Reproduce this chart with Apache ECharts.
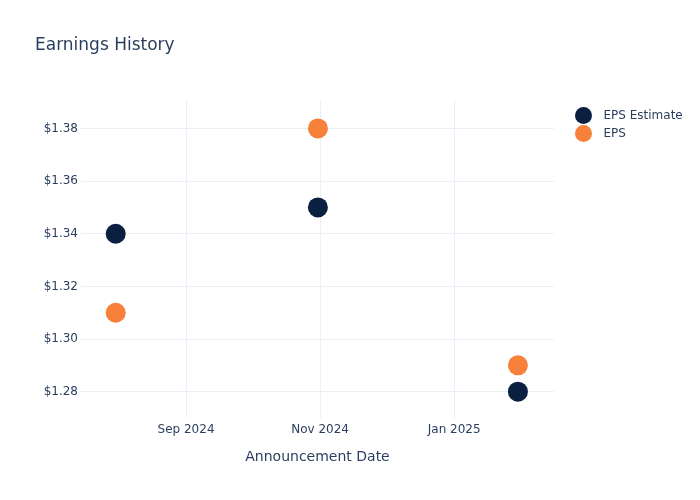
<!DOCTYPE html>
<html>
<head>
<meta charset="utf-8">
<script src="https://cdn.jsdelivr.net/npm/echarts@6/dist/echarts.min.js"></script>
</head>
<body style="margin:0">
<div id="main" style="width:700px;height:500px"></div>
<script>
// chart data
var dates = ['2024-07-31', '2024-10-31', '2025-01-30'];
var epsEstimate = [1.34, 1.35, 1.28];
var epsActual = [1.31, 1.38, 1.29];
var xTicks = ['2024-09-01', '2024-11-01', '2025-01-01'];
var yTicks = [1.28, 1.30, 1.32, 1.34, 1.36, 1.38];

function ts(s) {
  var p = s.split('-');
  return new Date(+p[0], +p[1] - 1, +p[2]).getTime();
}
var monthNames = ['Jan','Feb','Mar','Apr','May','Jun','Jul','Aug','Sep','Oct','Nov','Dec'];

var myChart = echarts.init(document.getElementById('main'));
var textColor = '#2a3f5f';
var gridColor = '#ebf0f8';
var font = 'DejaVu Sans';

var option = {
  backgroundColor: '#fff',
  title: {
    text: 'Earnings History',
    left: 30,
    top: 32,
    textStyle: { color: textColor, fontSize: 17, fontWeight: 'normal', fontFamily: font }
  },
  legend: {
    orient: 'vertical',
    left: 570,
    top: 102,
    icon: 'circle',
    itemWidth: 30,
    itemHeight: 17,
    itemGap: 1,
    textStyle: { color: textColor, fontSize: 12, fontFamily: font },
    data: ['EPS Estimate', 'EPS']
  },
  grid: { left: 81, right: 146, top: 100, bottom: 82 },
  xAxis: {
    // timestamps on a value axis so that custom tick values work
    type: 'value',
    min: new Date(2024, 6, 15, 5).getTime(),
    max: new Date(2025, 1, 15, 10).getTime(),
    name: 'Announcement Date',
    nameLocation: 'middle',
    nameGap: 32,
    nameTextStyle: { color: textColor, fontSize: 14, fontFamily: font },
    axisLine: { show: false },
    axisTick: { show: false, customValues: xTicks.map(ts) },
    splitLine: { show: true, lineStyle: { color: gridColor, width: 1 } },
    axisLabel: {
      customValues: xTicks.map(ts),
      color: textColor,
      fontSize: 12,
      margin: 6,
      fontFamily: font,
      formatter: function (v) {
        var d = new Date(v);
        return monthNames[d.getMonth()] + ' ' + d.getFullYear();
      }
    }
  },
  yAxis: {
    type: 'value',
    min: 1.27,
    max: 1.3908,
    axisLine: { show: false },
    axisTick: { show: false, customValues: yTicks },
    splitLine: { show: true, lineStyle: { color: gridColor, width: 1 } },
    axisLabel: {
      customValues: yTicks,
      color: textColor,
      fontSize: 12,
      margin: 3,
      fontFamily: font,
      formatter: function (v) { return '$' + v.toFixed(2); }
    }
  },
  series: [
    {
      name: 'EPS Estimate',
      type: 'scatter',
      symbolSize: 20,
      itemStyle: { color: '#0b1f40', opacity: 1 },
      data: dates.map(function (d, i) { return [ts(d), epsEstimate[i]]; })
    },
    {
      name: 'EPS',
      type: 'scatter',
      symbolSize: 20,
      itemStyle: { color: '#f7803a', opacity: 1 },
      data: dates.map(function (d, i) { return [ts(d), epsActual[i]]; })
    }
  ]
};
myChart.setOption(option);
</script>
</body>
</html>
